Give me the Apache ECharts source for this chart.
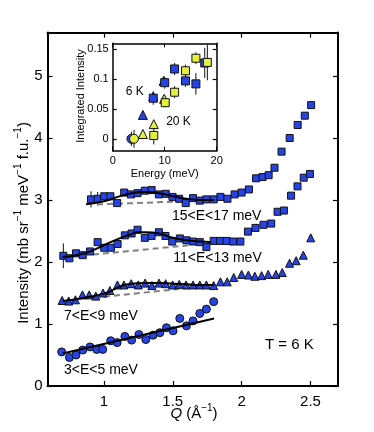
<!DOCTYPE html>
<html><head><meta charset="utf-8">
<script src="https://cdn.jsdelivr.net/npm/echarts@6/dist/echarts.min.js"></script>
<style>html,body{margin:0;padding:0;background:#fff}#c{width:374px;height:432px}</style>
</head><body><div id="c"></div>
<script>
// ---------- main panel data (Q in 1/Å, intensity) ----------
const q1 = [0.693,0.749,0.797,0.846,0.899,0.947,0.991,1.049,1.096,1.152,1.201,1.254,1.304,1.357,1.406,1.454,1.502,1.551,1.599,1.647,1.696,1.744,1.797];
const i1 = [0.55,0.46,0.50,0.58,0.63,0.59,0.59,0.73,0.70,0.80,0.74,0.83,0.75,0.82,0.86,0.94,0.89,1.09,0.97,1.05,1.17,1.24,1.36];

const q2 = [0.696,0.744,0.793,0.844,0.893,0.941,0.993,1.043,1.098,1.145,1.198,1.249,1.299,1.348,1.40,1.448,1.499,1.547,1.596,1.647,1.696,1.744,1.797,1.846,1.895,1.943,2.0,2.049,2.096,2.145,2.193,2.249,2.295,2.348,2.396,2.448,2.502];
const i2 = [1.38,1.37,1.39,1.47,1.47,1.45,1.50,1.54,1.63,1.63,1.65,1.63,1.66,1.62,1.66,1.65,1.63,1.64,1.63,1.63,1.63,1.63,1.62,1.68,1.68,1.75,1.80,1.79,1.77,1.78,1.80,1.80,1.83,1.98,2.02,2.11,2.39];

const q3 = [0.705,0.749,0.797,0.846,0.899,0.954,1.002,1.051,1.099,1.152,1.201,1.244,1.297,1.346,1.399,1.447,1.496,1.551,1.599,1.647,1.696,1.744,1.797,1.844,1.891,1.938,1.991,2.046,2.101,2.159,2.215,2.261,2.307,2.359,2.406,2.451,2.496];
const i3 = [2.10,2.06,2.14,2.11,2.17,2.32,2.23,2.23,2.29,2.43,2.46,2.52,2.39,2.42,2.48,2.42,2.33,2.38,2.35,2.33,2.32,2.24,2.34,2.34,2.34,2.33,2.33,2.49,2.55,2.60,2.62,2.81,2.83,3.07,3.22,3.36,3.42];
const e3 = [0.20,0.03,0.03,0.03,0.03,0.03,0.03,0.03,0.03,0.03,0.03,0.03,0.03,0.03,0.03,0.03,0.03,0.03,0.03,0.03,0.03,0.03,0.03,0.03,0.03,0.03,0.03,0.04,0.04,0.04,0.04,0.04,0.04,0.05,0.05,0.05,0.05];

const q4 = [0.906,0.954,1.002,1.047,1.096,1.147,1.196,1.244,1.297,1.346,1.399,1.449,1.498,1.546,1.594,1.647,1.696,1.744,1.797,1.846,1.897,1.949,2.0,2.053,2.105,2.152,2.196,2.239,2.29,2.349,2.407,2.459,2.505];
const i4 = [3.01,3.02,3.06,3.06,2.95,3.12,3.09,3.11,3.15,3.16,3.09,3.10,3.05,3.02,2.95,3.03,2.99,3.01,3.01,3.05,3.02,3.09,3.12,3.17,3.35,3.37,3.40,3.52,3.78,4.00,4.21,4.36,4.53];
const e4 = [0.13,0.11,0.03,0.03,0.03,0.03,0.03,0.03,0.03,0.03,0.03,0.03,0.03,0.03,0.03,0.03,0.03,0.03,0.03,0.03,0.03,0.03,0.03,0.04,0.04,0.04,0.04,0.05,0.05,0.05,0.05,0.05,0.05];

// fit curves
const fit1Q = [0.70,1.80];
const fit1I = [0.525,1.09];
const fit2Q = [0.70,0.80,0.90,1.00,1.05,1.10,1.15,1.20,1.30,1.40,1.50,1.60,1.70,1.80];
const fit2I = [1.37,1.40,1.44,1.49,1.53,1.59,1.63,1.65,1.66,1.66,1.65,1.64,1.63,1.63];
const fit3Q = [0.70,0.80,0.90,1.00,1.10,1.20,1.25,1.30,1.40,1.50,1.60,1.70,1.78];
const fit3I = [2.08,2.11,2.17,2.27,2.37,2.45,2.48,2.48,2.46,2.39,2.35,2.33,2.32];
const fit4Q = [0.87,1.00,1.10,1.20,1.30,1.40,1.50,1.60,1.70,1.80];
const fit4I = [2.93,2.98,3.05,3.11,3.13,3.11,3.06,3.02,3.00,3.00];
// dashed backgrounds
const bg2Q = [1.00,1.70]; const bg2I = [1.44,1.60];
const bg3Q = [0.92,1.62]; const bg3I = [2.12,2.27];
const bg4Q = [0.95,1.62]; const bg4I = [2.93,2.98];

const mainXTicks = [1,1.5,2,2.5];

// ---------- inset data (Energy meV, integrated intensity) ----------
const b6CircE = [3.6];  const b6CircI = [0.0];   const b6CircErr = [0.012];
const b6TriE = [5.8,7.8,9.8]; const b6TriI = [0.040,0.071,0.097]; const b6TriErr = [0.005,0.005,0.005];
const b6SqE = [7.8,10.0,11.9,14.0,16.0,17.7]; const b6SqI = [0.068,0.094,0.117,0.097,0.092,0.127]; const b6SqErr = [0.011,0.010,0.010,0.010,0.018,0.025];
const y20CircE = [4.1]; const y20CircI = [0.0]; const y20CircErr = [0.015];
const y20TriE = [5.8,7.9,9.9]; const y20TriI = [0.008,0.0245,0.067]; const y20TriErr = [0.004,0.006,0.005];
const y20SqE = [7.9,10.1,11.9,14.0,16.0,18.2]; const y20SqI = [0.0055,0.0605,0.078,0.114,0.135,0.128]; const y20SqErr = [0.015,0.008,0.010,0.010,0.010,0.030];
const insetYTicks = [0,0.05,0.1,0.15];

// ---------- styling ----------
const FONT = "'Liberation Sans', Arial, Helvetica, sans-serif";
const BLUE = '#2644e6';
const YEL = '#e3ef3c';
const zip = (a,b) => a.map((v,k)=>[v,b[k]]);
const errData = (x,y,e) => x.map((v,k)=>[v, y[k]-e[k], y[k]+e[k]]);
function errRender(params, api){
  const p1 = api.coord([api.value(0), api.value(1)]);
  const p2 = api.coord([api.value(0), api.value(2)]);
  return {type:'line', shape:{x1:p1[0],y1:p1[1],x2:p2[0],y2:p2[1]}, style:{stroke:'#111', lineWidth:1}};
}
function errSeries(x,y,e,xi,yi){
  return {type:'custom', xAxisIndex:xi, yAxisIndex:yi, renderItem:errRender, data:errData(x,y,e), z:3, silent:true, encode:{x:0,y:[1,2]}};
}
function sc(x,y,sym,size,color,xi,yi,z){
  return {type:'scatter', xAxisIndex:xi, yAxisIndex:yi, data:zip(x,y), symbol:sym, symbolSize:size,
    itemStyle:{color:color, borderColor:'#111', borderWidth:1, opacity:1}, z:z||5, silent:true};
}
function ln(x,y,dashed,xi,yi){
  return {type:'line', xAxisIndex:xi, yAxisIndex:yi, data:zip(x,y), smooth:!dashed, symbol:'none',
    lineStyle:dashed?{color:'#808080', width:2, type:[6,4]}:{color:'#000', width:2}, z:dashed?4:6, silent:true};
}
const tickIn = (vals,len) => ({show:true, inside:true, length:len, lineStyle:{color:'#000', width:1.2}, customValues:vals});
const axLine = w => ({show:true, onZero:false, lineStyle:{color:'#000', width:w}});

const option = {
  animation:false,
  backgroundColor:'#fff',
  grid:[
    {left:47.5, top:32.6, width:290.5, height:353.4, show:false},
    {left:112.7, top:43.3, width:104, height:107.4, show:true, backgroundColor:'#fff', borderWidth:0, z:8}
  ],
  xAxis:[
    {gridIndex:0, type:'value', min:0.59, max:2.7, position:'bottom', axisLine:axLine(2), axisTick:tickIn(mainXTicks,5),
     axisLabel:{customValues:mainXTicks, fontSize:15, color:'#000', fontFamily:FONT, margin:8}, splitLine:{show:false}},
    {gridIndex:0, type:'value', min:0.59, max:2.7, position:'top', axisLine:axLine(2), axisTick:tickIn(mainXTicks,5),
     axisLabel:{show:false, customValues:mainXTicks}, splitLine:{show:false}},
    {gridIndex:1, type:'value', min:0, max:20, interval:10, position:'bottom', axisLine:axLine(1.5), axisTick:{show:true, inside:true, length:4, lineStyle:{color:'#000'}},
     axisLabel:{fontSize:11, color:'#000', fontFamily:FONT, margin:5}, splitLine:{show:false}, z:9},
    {gridIndex:1, type:'value', min:0, max:20, interval:10, position:'top', axisLine:axLine(1.5), axisTick:{show:true, inside:true, length:4, lineStyle:{color:'#000'}},
     axisLabel:{show:false}, splitLine:{show:false}, z:9}
  ],
  yAxis:[
    {gridIndex:0, type:'value', min:0, max:5.7, interval:1, position:'left', axisLine:axLine(2), axisTick:tickIn([0,1,2,3,4,5],5),
     axisLabel:{customValues:[0,1,2,3,4,5], fontSize:15, color:'#000', fontFamily:FONT, margin:5}, splitLine:{show:false}},
    {gridIndex:0, type:'value', min:0, max:5.7, interval:1, position:'right', axisLine:axLine(2), axisTick:tickIn([0,1,2,3,4,5],5),
     axisLabel:{show:false, customValues:[0,1,2,3,4,5]}, splitLine:{show:false}},
    {gridIndex:1, type:'value', min:-0.02, max:0.16, position:'left', axisLine:axLine(1.5), axisTick:tickIn(insetYTicks,4),
     axisLabel:{customValues:insetYTicks, fontSize:11, color:'#000', fontFamily:FONT, margin:4}, splitLine:{show:false}, z:9},
    {gridIndex:1, type:'value', min:-0.02, max:0.16, position:'right', axisLine:axLine(1.5), axisTick:tickIn(insetYTicks,4),
     axisLabel:{show:false, customValues:insetYTicks}, splitLine:{show:false}, z:9}
  ],
  series:[
    // main panel
    ln(bg2Q,bg2I,true,0,0), ln(bg3Q,bg3I,true,0,0), ln(bg4Q,bg4I,true,0,0),
    errSeries(q3,i3,e3,0,0), errSeries(q4,i4,e4,0,0),
    sc(q1,i1,'circle',8,BLUE,0,0),
    sc(q2,i2,'triangle',8,BLUE,0,0),
    sc(q3,i3,'rect',7,BLUE,0,0),
    sc(q4,i4,'rect',7,BLUE,0,0),
    ln(fit1Q,fit1I,false,0,0), ln(fit2Q,fit2I,false,0,0), ln(fit3Q,fit3I,false,0,0), ln(fit4Q,fit4I,false,0,0),
    // inset
    {type:'line', xAxisIndex:2, yAxisIndex:2, data:[], z:10, markLine:{silent:true, symbol:'none', label:{show:false},
      lineStyle:{color:'#555', type:[6,5], width:1}, data:[{yAxis:0}]}},
    Object.assign(errSeries(b6CircE,b6CircI,b6CircErr,2,2),{z:11}),
    Object.assign(errSeries(y20CircE,y20CircI,y20CircErr,2,2),{z:11}),
    Object.assign(errSeries(b6TriE,b6TriI,b6TriErr,2,2),{z:11}),
    Object.assign(errSeries(y20TriE,y20TriI,y20TriErr,2,2),{z:11}),
    Object.assign(errSeries(b6SqE,b6SqI,b6SqErr,2,2),{z:11}),
    Object.assign(errSeries(y20SqE,y20SqI,y20SqErr,2,2),{z:11}),
    sc(b6CircE,b6CircI,'circle',9,BLUE,2,2,12),
    sc(y20CircE,y20CircI,'circle',9,YEL,2,2,13),
    sc(b6TriE,b6TriI,'triangle',9,BLUE,2,2,12),
    sc(y20TriE,y20TriI,'triangle',9,YEL,2,2,13),
    sc(b6SqE,b6SqI,'rect',8,BLUE,2,2,14),
    sc(y20SqE,y20SqI,'rect',8,YEL,2,2,15)
  ],
  graphic:[
    {type:'text', x:22, y:223, rotation:Math.PI/2, z:20, style:{
      text:'{a|Intensity (mb sr}{s|−1}{a| meV}{s|−1}{a| f.u.}{s|−1}{a|)}', align:'center', verticalAlign:'middle',
      rich:{a:{fontSize:15, fontFamily:FONT, fill:'#000', lineHeight:18, verticalAlign:'bottom'},
            s:{fontSize:10, fontFamily:FONT, fill:'#000', lineHeight:10, verticalAlign:'top'}}}},
    {type:'text', x:194, y:412, z:20, style:{
      text:'{q|Q}{a| (Å}{s|−1}{a|)}', align:'center', verticalAlign:'middle',
      rich:{q:{fontSize:15, fontFamily:FONT, fontStyle:'italic', fill:'#000', lineHeight:18, verticalAlign:'bottom'},
            a:{fontSize:15, fontFamily:FONT, fill:'#000', lineHeight:18, verticalAlign:'bottom'},
            s:{fontSize:10, fontFamily:FONT, fill:'#000', lineHeight:10, verticalAlign:'top'}}}},
    {type:'text', x:216.7, y:215.7, z:20, style:{text:'15<E<17 meV', fontSize:14, fontFamily:FONT, fill:'#000', align:'center', verticalAlign:'middle'}},
    {type:'text', x:217.5, y:258.3, z:20, style:{text:'11<E<13 meV', fontSize:14, fontFamily:FONT, fill:'#000', align:'center', verticalAlign:'middle'}},
    {type:'text', x:64, y:316, z:20, style:{text:'7<E<9 meV', fontSize:14, fontFamily:FONT, fill:'#000', align:'left', verticalAlign:'middle'}},
    {type:'text', x:64, y:370, z:20, style:{text:'3<E<5 meV', fontSize:14, fontFamily:FONT, fill:'#000', align:'left', verticalAlign:'middle'}},
    {type:'text', x:265, y:345, z:20, style:{text:'T = 6 K', fontSize:15, fontFamily:FONT, fill:'#000', align:'left', verticalAlign:'middle'}},
    {type:'text', x:164.7, y:174, z:20, style:{text:'Energy (meV)', fontSize:11, fontFamily:FONT, fill:'#000', align:'center', verticalAlign:'middle'}},
    {type:'text', x:81, y:96, rotation:Math.PI/2, z:20, style:{text:'Integrated Intensity', fontSize:11, fontFamily:FONT, fill:'#000', align:'center', verticalAlign:'middle'}},
    {type:'text', x:134.7, y:91.7, z:20, style:{text:'6 K', fontSize:12, fontFamily:FONT, fill:'#000', align:'center', verticalAlign:'middle'}},
    {type:'text', x:178.5, y:121.7, z:20, style:{text:'20 K', fontSize:12, fontFamily:FONT, fill:'#000', align:'center', verticalAlign:'middle'}}
  ]
};
const chart = echarts.init(document.getElementById('c'), null, {renderer:'canvas'});
chart.setOption(option);
</script>
</body></html>
